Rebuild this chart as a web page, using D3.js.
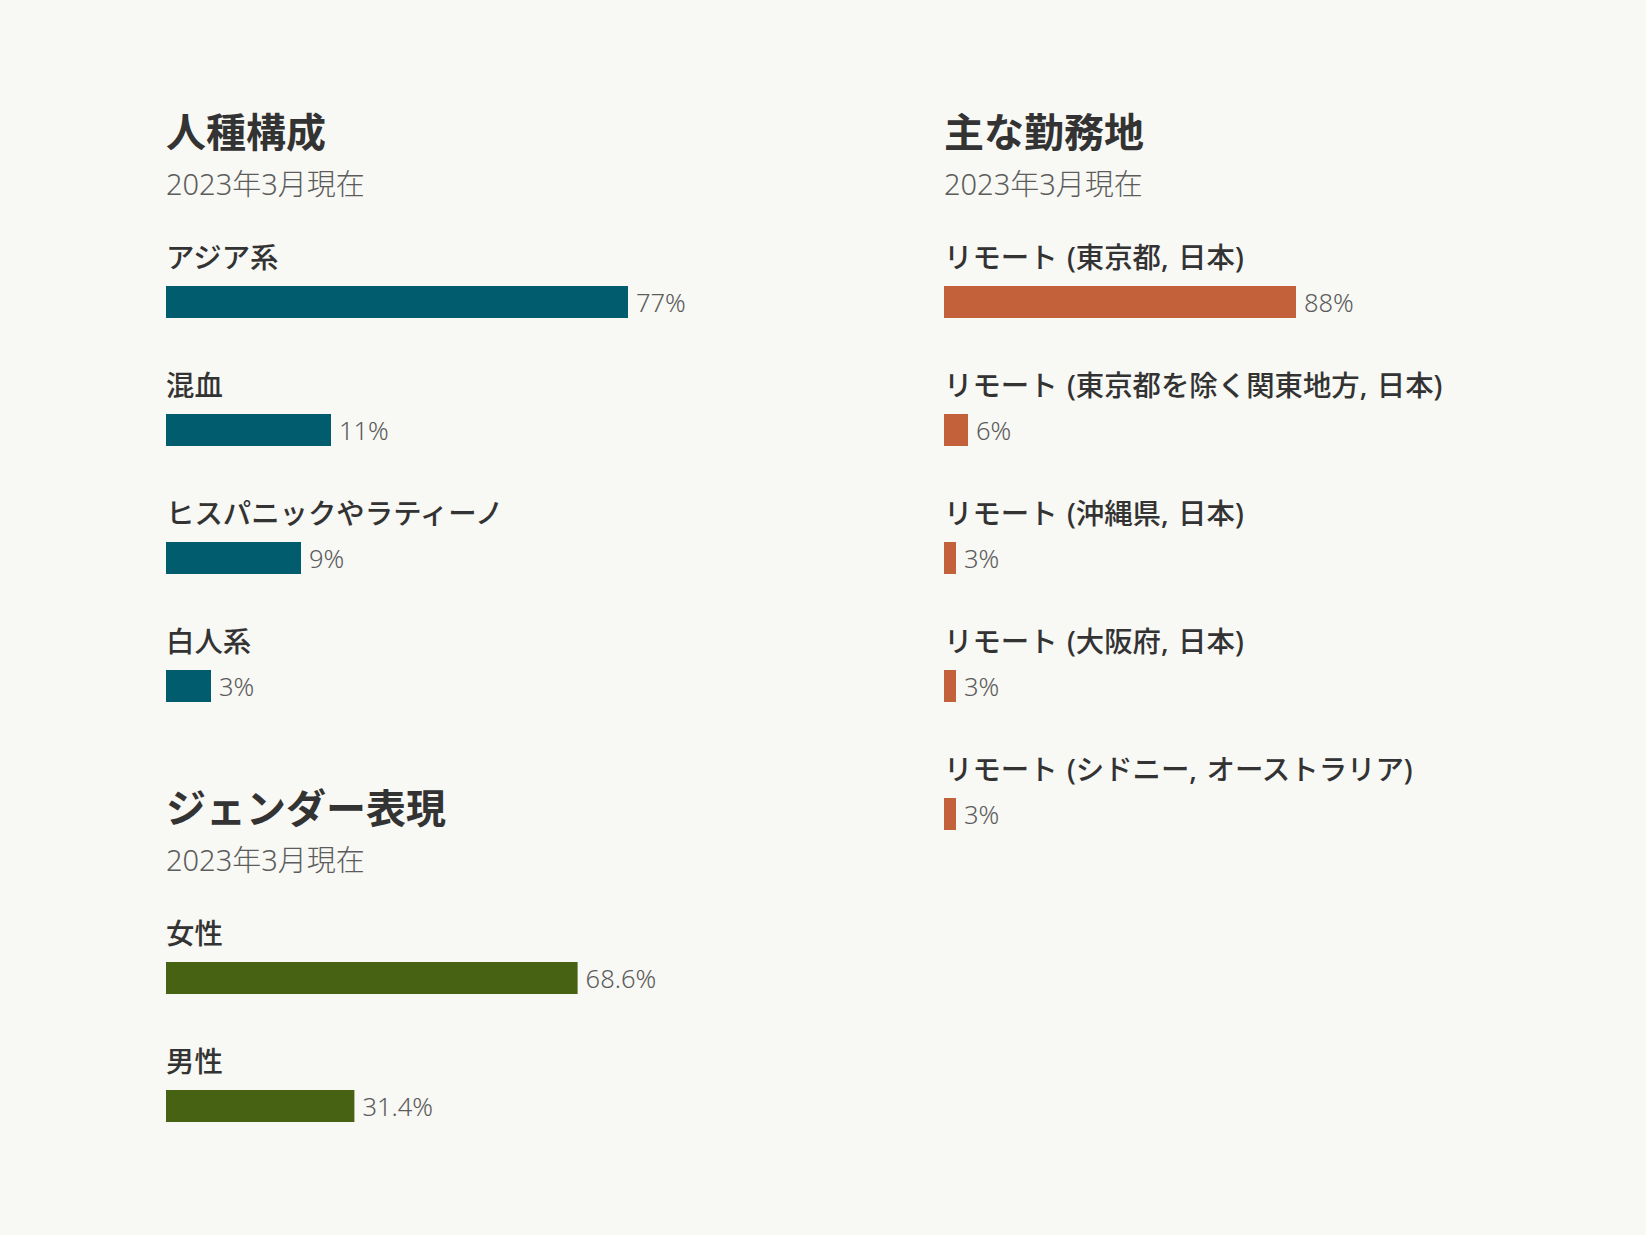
<!DOCTYPE html>
<html>
<head>
<meta charset="utf-8">
<script src="https://cdn.jsdelivr.net/npm/d3@7"></script>
<style>
  html, body { margin: 0; padding: 0; background: #f8f8f4; }
  svg { display: block; }
  text { font-family: "Noto Sans", "Noto Sans CJK JP", sans-serif; }
</style>
</head>
<body>
<svg id="chart" width="1646" height="1235"></svg>
<script>
// ---- data ----
const raceTitle = "人種構成";
const raceSubtitle = "2023年3月現在";
const raceCategories = ["アジア系", "混血", "ヒスパニックやラティーノ", "白人系"];
const raceValues = [77, 11, 9, 3];
const raceLabels = ["77%", "11%", "9%", "3%"];

const genderTitle = "ジェンダー表現";
const genderSubtitle = "2023年3月現在";
const genderCategories = ["女性", "男性"];
const genderValues = [68.6, 31.4];
const genderLabels = ["68.6%", "31.4%"];

const locTitle = "主な勤務地";
const locSubtitle = "2023年3月現在";
const locCategories = [
  "リモート (東京都, 日本)",
  "リモート (東京都を除く関東地方, 日本)",
  "リモート (沖縄県, 日本)",
  "リモート (大阪府, 日本)",
  "リモート (シドニー, オーストラリア)"
];
const locValues = [88, 6, 3, 3, 3];
const locLabels = ["88%", "6%", "3%", "3%", "3%"];

// ---- layout ----
const svg = d3.select("#chart");
const pitch = 128;
const barH = 32;

function panel(opts) {
  const g = svg.append("g").attr("transform", `translate(${opts.x},${opts.barTop})`);
  g.append("text").attr("x", 0).attr("y", -139)
    .attr("font-size", 40).attr("font-weight", 700).attr("fill", "#333333")
    .text(opts.title);
  g.append("text").attr("x", 0).attr("y", -91)
    .attr("font-size", 29).attr("font-weight", 300).attr("fill", "#5c5c5c")
    .text(opts.subtitle);

  const y = d3.scaleBand()
    .domain(opts.categories)
    .range([0, pitch * opts.categories.length])
    .paddingInner(0).paddingOuter(0);

  const rows = g.selectAll("g.row")
    .data(opts.categories.map((c, i) => ({ c, v: opts.values[i], l: opts.labels[i] })))
    .join("g").attr("class", "row")
    .attr("transform", d => `translate(0,${y(d.c)})`);

  rows.append("text").attr("x", 0).attr("y", -18)
    .attr("font-size", 28.4).attr("font-weight", 500).attr("fill", "#333333")
    .attr("word-spacing", 2)
    .text(d => d.c);

  rows.append("rect").attr("x", 0).attr("y", 0)
    .attr("height", barH)
    .attr("width", d => opts.scale(d.v))
    .attr("fill", opts.color);

  rows.append("text")
    .attr("x", d => opts.scale(d.v) + 8)
    .attr("y", barH / 2 + 9.5)
    .attr("font-size", 25.5).attr("font-weight", 300).attr("fill", "#5c5c5c")
    .text(d => d.l);
}

// race: bars grow at 15px per point, capped at the column width
const xRace = d3.scaleLinear().domain([0, 30.8]).range([0, 462]).clamp(true);
const xGender = d3.scaleLinear().domain([0, 100]).range([0, 600]);
const xLoc = d3.scaleLinear().domain([0, 100]).range([0, 400]);

panel({ x: 166, barTop: 286, title: raceTitle, subtitle: raceSubtitle,
  categories: raceCategories, values: raceValues, labels: raceLabels,
  scale: xRace, color: "#015c6e" });

panel({ x: 166, barTop: 962, title: genderTitle, subtitle: genderSubtitle,
  categories: genderCategories, values: genderValues, labels: genderLabels,
  scale: xGender, color: "#476213" });

panel({ x: 944, barTop: 286, title: locTitle, subtitle: locSubtitle,
  categories: locCategories, values: locValues, labels: locLabels,
  scale: xLoc, color: "#c3623a" });
</script>
</body>
</html>
